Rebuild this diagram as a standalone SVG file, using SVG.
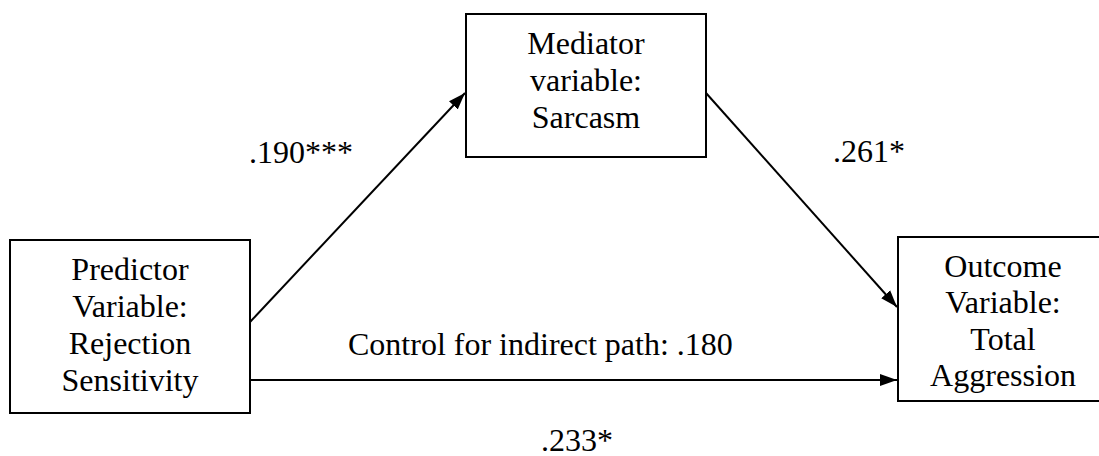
<svg xmlns="http://www.w3.org/2000/svg" width="1099" height="456" viewBox="0 0 1099 456" font-family="Times New Roman">
<style>
.box{fill:#fff;stroke:#000;stroke-width:2}
.ln{stroke:#000;stroke-width:2;fill:none}
.t{font-family:'Liberation Serif',serif;font-size:32px;fill:#000}
.c{text-anchor:middle}
</style>
<defs>
<marker id="ah" viewBox="0 0 10 10" refX="10" refY="5" markerWidth="17" markerHeight="17" markerUnits="userSpaceOnUse" orient="auto">
<path d="M0,1.5 L10,5 L0,8.5 z" fill="#000"/>
</marker>
</defs>
<g id="connectors">
<line class="ln" x1="250" y1="322" x2="465" y2="93" marker-end="url(#ah)"/>
<line class="ln" x1="706" y1="93" x2="897" y2="307" marker-end="url(#ah)"/>
<line class="ln" x1="250" y1="380" x2="897" y2="380" marker-end="url(#ah)"/>
</g>
<g id="predictor">
<rect class="box" x="10" y="240" width="240" height="173"/>
<text class="t c" x="130" y="280">Predictor</text>
<text class="t c" x="130" y="317">Variable:</text>
<text class="t c" x="130" y="354">Rejection</text>
<text class="t c" x="130" y="391">Sensitivity</text>
</g>
<g id="mediator">
<rect class="box" x="466" y="14" width="240" height="143"/>
<text class="t c" x="586" y="54">Mediator</text>
<text class="t c" x="586" y="91">variable:</text>
<text class="t c" x="586" y="128">Sarcasm</text>
</g>
<g id="outcome">
<rect class="box" x="898" y="237" width="212" height="164"/>
<text class="t c" x="1003" y="277">Outcome</text>
<text class="t c" x="1003" y="313">Variable:</text>
<text class="t c" x="1003" y="350">Total</text>
<text class="t c" x="1003" y="386">Aggression</text>
</g>
<g id="labels">
<text class="t" x="249" y="163">.190***</text>
<text class="t" x="833" y="162">.261*</text>
<text class="t" x="348" y="355">Control for indirect path: .180</text>
<text class="t" x="541" y="451">.233*</text>
</g>
</svg>
